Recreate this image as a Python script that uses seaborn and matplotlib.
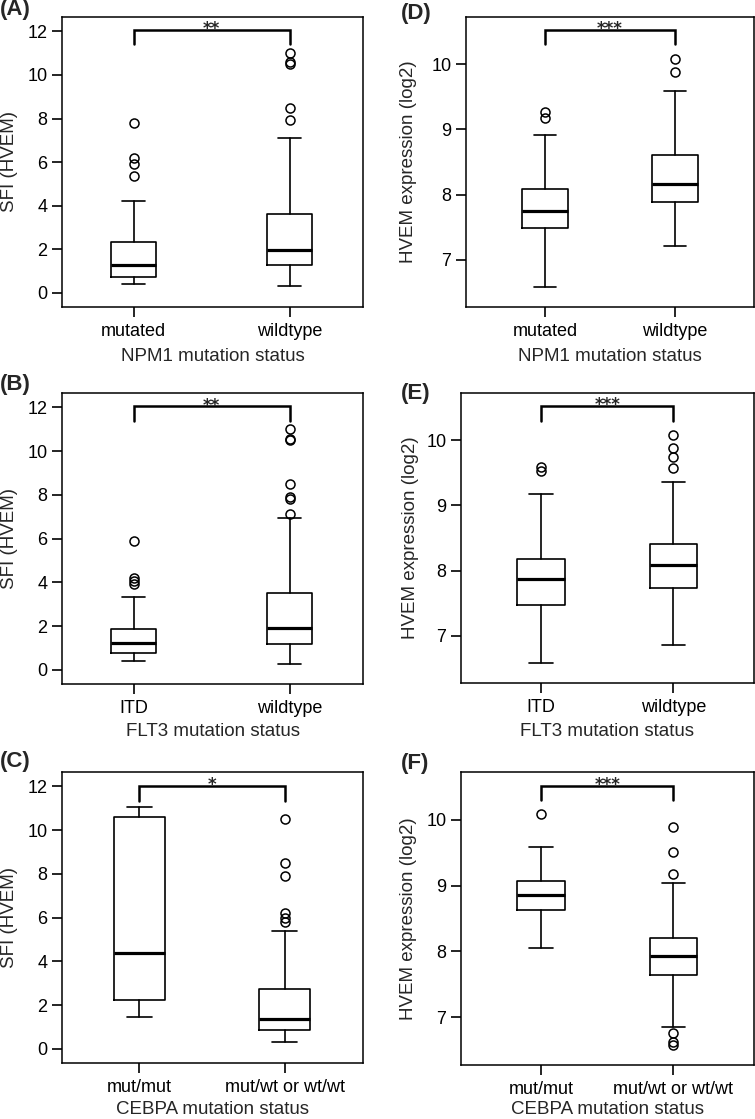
import numpy as np
import matplotlib
matplotlib.use("Agg")
import matplotlib.pyplot as plt
import seaborn as sns

# ============================================================
# DATA
# ============================================================

# (A) SFI by NPM1
npm1_groups = ["mutated", "wildtype"]
A_med = [1.30, 1.95]
A_q1 = [0.73, 1.27]
A_q3 = [2.32, 3.62]
A_lo = [0.41, 0.30]
A_hi = [4.20, 7.11]
A_fliers = [[7.80, 6.17, 5.93, 5.38], [11.00, 10.58, 10.50, 8.49, 7.92]]

# (B) SFI by FLT3
flt3_groups = ["ITD", "wildtype"]
B_med = [1.22, 1.91]
B_q1 = [0.76, 1.19]
B_q3 = [1.88, 3.51]
B_lo = [0.39, 0.28]
B_hi = [3.33, 6.95]
B_fliers = [[5.90, 4.22, 4.06, 3.92], [11.00, 10.56, 10.49, 8.49, 7.92, 7.81, 7.11]]

# (C) SFI by CEBPA
cebpa_groups = ["mut/mut", "mut/wt or wt/wt"]
C_med = [4.40, 1.38]
C_q1 = [2.25, 0.87]
C_q3 = [10.58, 2.75]
C_lo = [1.45, 0.30]
C_hi = [11.04, 5.39]
C_fliers = [[], [10.52, 8.49, 7.90, 6.19, 5.96, 5.81]]

# (D) HVEM expression by NPM1
D_med = [7.755, 8.17]
D_q1 = [7.49, 7.88]
D_q3 = [8.09, 8.60]
D_lo = [6.59, 7.22]
D_hi = [8.91, 9.58]
D_fliers = [[9.27, 9.17], [10.08, 9.88]]

# (E) HVEM expression by FLT3
E_med = [7.875, 8.08]
E_q1 = [7.48, 7.74]
E_q3 = [8.185, 8.41]
E_lo = [6.59, 6.86]
E_hi = [9.17, 9.35]
E_fliers = [[9.58, 9.52], [10.08, 9.88, 9.74, 9.57]]

# (F) HVEM expression by CEBPA
F_med = [8.85, 7.93]
F_q1 = [8.63, 7.64]
F_q3 = [9.07, 8.21]
F_lo = [8.06, 6.86]
F_hi = [9.58, 9.04]
F_fliers = [[10.09], [9.89, 9.51, 9.18, 6.77, 6.63, 6.58]]

# significance brackets: (label, bracket top, leg bottom)
A_sig = ("**", 12.08, 11.44)
B_sig = ("**", 12.05, 11.36)
C_sig = ("*", 12.03, 11.34)
D_sig = ("***", 10.52, 10.31)
E_sig = ("***", 10.52, 10.29)
F_sig = ("***", 10.51, 10.29)

# ============================================================
# STYLE
# ============================================================

sns.set_theme(style="ticks")
plt.rcParams['font.family'] = ['Liberation Sans', 'DejaVu Sans']
plt.rcParams['axes.edgecolor'] = 'black'
plt.rcParams['axes.linewidth'] = 1.1

W, H = 755, 1119
fig = plt.figure(figsize=(W / 100, H / 100), dpi=100)
fig.patch.set_facecolor('white')


def add_ax(left, right, top, bottom):
    return fig.add_axes([left / W, 1 - bottom / H, (right - left) / W, (bottom - top) / H])


def draw_panel(ax, groups, med, q1, q3, lo, hi, fliers, sig, width, xlim, ylim,
               ylabel, xlabel, yticks, ylab_x, xlab_px, label, label_xy):
    stats = []
    for i in range(len(groups)):
        stats.append(dict(med=med[i], q1=q1[i], q3=q3[i], whislo=lo[i],
                          whishi=hi[i], fliers=fliers[i], label=groups[i]))
    lw = 1.2
    ax.bxp(stats, positions=[1, 2], widths=width, showfliers=True,
           boxprops=dict(color='black', linewidth=lw),
           whiskerprops=dict(color='black', linewidth=lw, linestyle='-'),
           capprops=dict(color='black', linewidth=lw),
           medianprops=dict(color='black', linewidth=2.3, solid_capstyle='butt'),
           flierprops=dict(marker='o', markerfacecolor='none', markeredgecolor='black',
                           markersize=6.5, markeredgewidth=1.1))
    ax.set_xlim(*xlim)
    ax.set_ylim(*ylim)
    ax.set_yticks(yticks)
    ax.set_yticklabels([str(t) for t in yticks])
    ax.set_xticks([1, 2])
    ax.set_xticklabels(groups)
    ax.tick_params(axis='both', direction='out', length=7.5, width=1.2,
                   labelsize=13, color='black', labelcolor='black')
    ax.tick_params(axis='y', pad=3)
    ax.tick_params(axis='x', pad=4)
    for s in ax.spines.values():
        s.set_visible(True)
        s.set_linewidth(1.1)

    ax.set_ylabel(ylabel, fontsize=13.5, va='center')
    ax.yaxis.set_label_coords(ylab_x, 0.5)
    ax.set_xlabel(xlabel, fontsize=13.5, va='baseline')
    h_px = ax.get_position().height * H
    ax.xaxis.set_label_coords(0.5, -xlab_px / h_px)

    # significance bracket
    txt, ytop, ybot = sig
    ax.plot([1, 1, 2, 2], [ybot, ytop, ytop, ybot], color='black', lw=1.8,
            solid_joinstyle='miter')
    ax.annotate(txt, (1.5, ytop), xytext=(0, -3), textcoords='offset points',
                ha='center', va='baseline', fontsize=12, fontweight='bold',
                family='DejaVu Sans')

    fig.text(label_xy[0] / W, 1 - label_xy[1] / H, label, fontsize=16,
             fontweight='bold', ha='left', va='center')


sfi_ticks = [0, 2, 4, 6, 8, 10, 12]
hvem_ticks = [7, 8, 9, 10]
sfi_lim = (-0.65, 12.66)
hvem_lim = (6.28, 10.72)

axA = add_ax(62, 363, 17, 307)
draw_panel(axA, npm1_groups, A_med, A_q1, A_q3, A_lo, A_hi, A_fliers, A_sig,
           0.29, (0.54, 2.47), sfi_lim, "SFI (HVEM)", "NPM1 mutation status",
           sfi_ticks, -0.175, 54, "(A)", (0, 10))

axB = add_ax(62, 363, 393, 684)
draw_panel(axB, flt3_groups, B_med, B_q1, B_q3, B_lo, B_hi, B_fliers, B_sig,
           0.29, (0.54, 2.47), sfi_lim, "SFI (HVEM)", "FLT3 mutation status",
           sfi_ticks, -0.175, 52.5, "(B)", (0, 385))

axC = add_ax(62, 363, 772, 1063)
draw_panel(axC, cebpa_groups, C_med, C_q1, C_q3, C_lo, C_hi, C_fliers, C_sig,
           0.354, (0.467, 2.54), sfi_lim, "SFI (HVEM)", "CEBPA mutation status",
           sfi_ticks, -0.175, 51, "(C)", (0, 761))

axD = add_ax(466, 754, 17, 307)
draw_panel(axD, npm1_groups, D_med, D_q1, D_q3, D_lo, D_hi, D_fliers, D_sig,
           0.35, (0.39, 2.61), hvem_lim, "HVEM expression (log2)", "NPM1 mutation status",
           hvem_ticks, -0.20, 54, "(D)", (401, 13))

axE = add_ax(461, 754, 393, 683)
draw_panel(axE, flt3_groups, E_med, E_q1, E_q3, E_lo, E_hi, E_fliers, E_sig,
           0.357, (0.395, 2.61), hvem_lim, "HVEM expression (log2)", "FLT3 mutation status",
           hvem_ticks, -0.174, 53, "(E)", (401, 394))

axF = add_ax(461, 754, 772, 1065)
draw_panel(axF, cebpa_groups, F_med, F_q1, F_q3, F_lo, F_hi, F_fliers, F_sig,
           0.357, (0.395, 2.61), hvem_lim, "HVEM expression (log2)", "CEBPA mutation status",
           hvem_ticks, -0.18, 49, "(F)", (401, 764))

fig.savefig("out.png", dpi=100)
